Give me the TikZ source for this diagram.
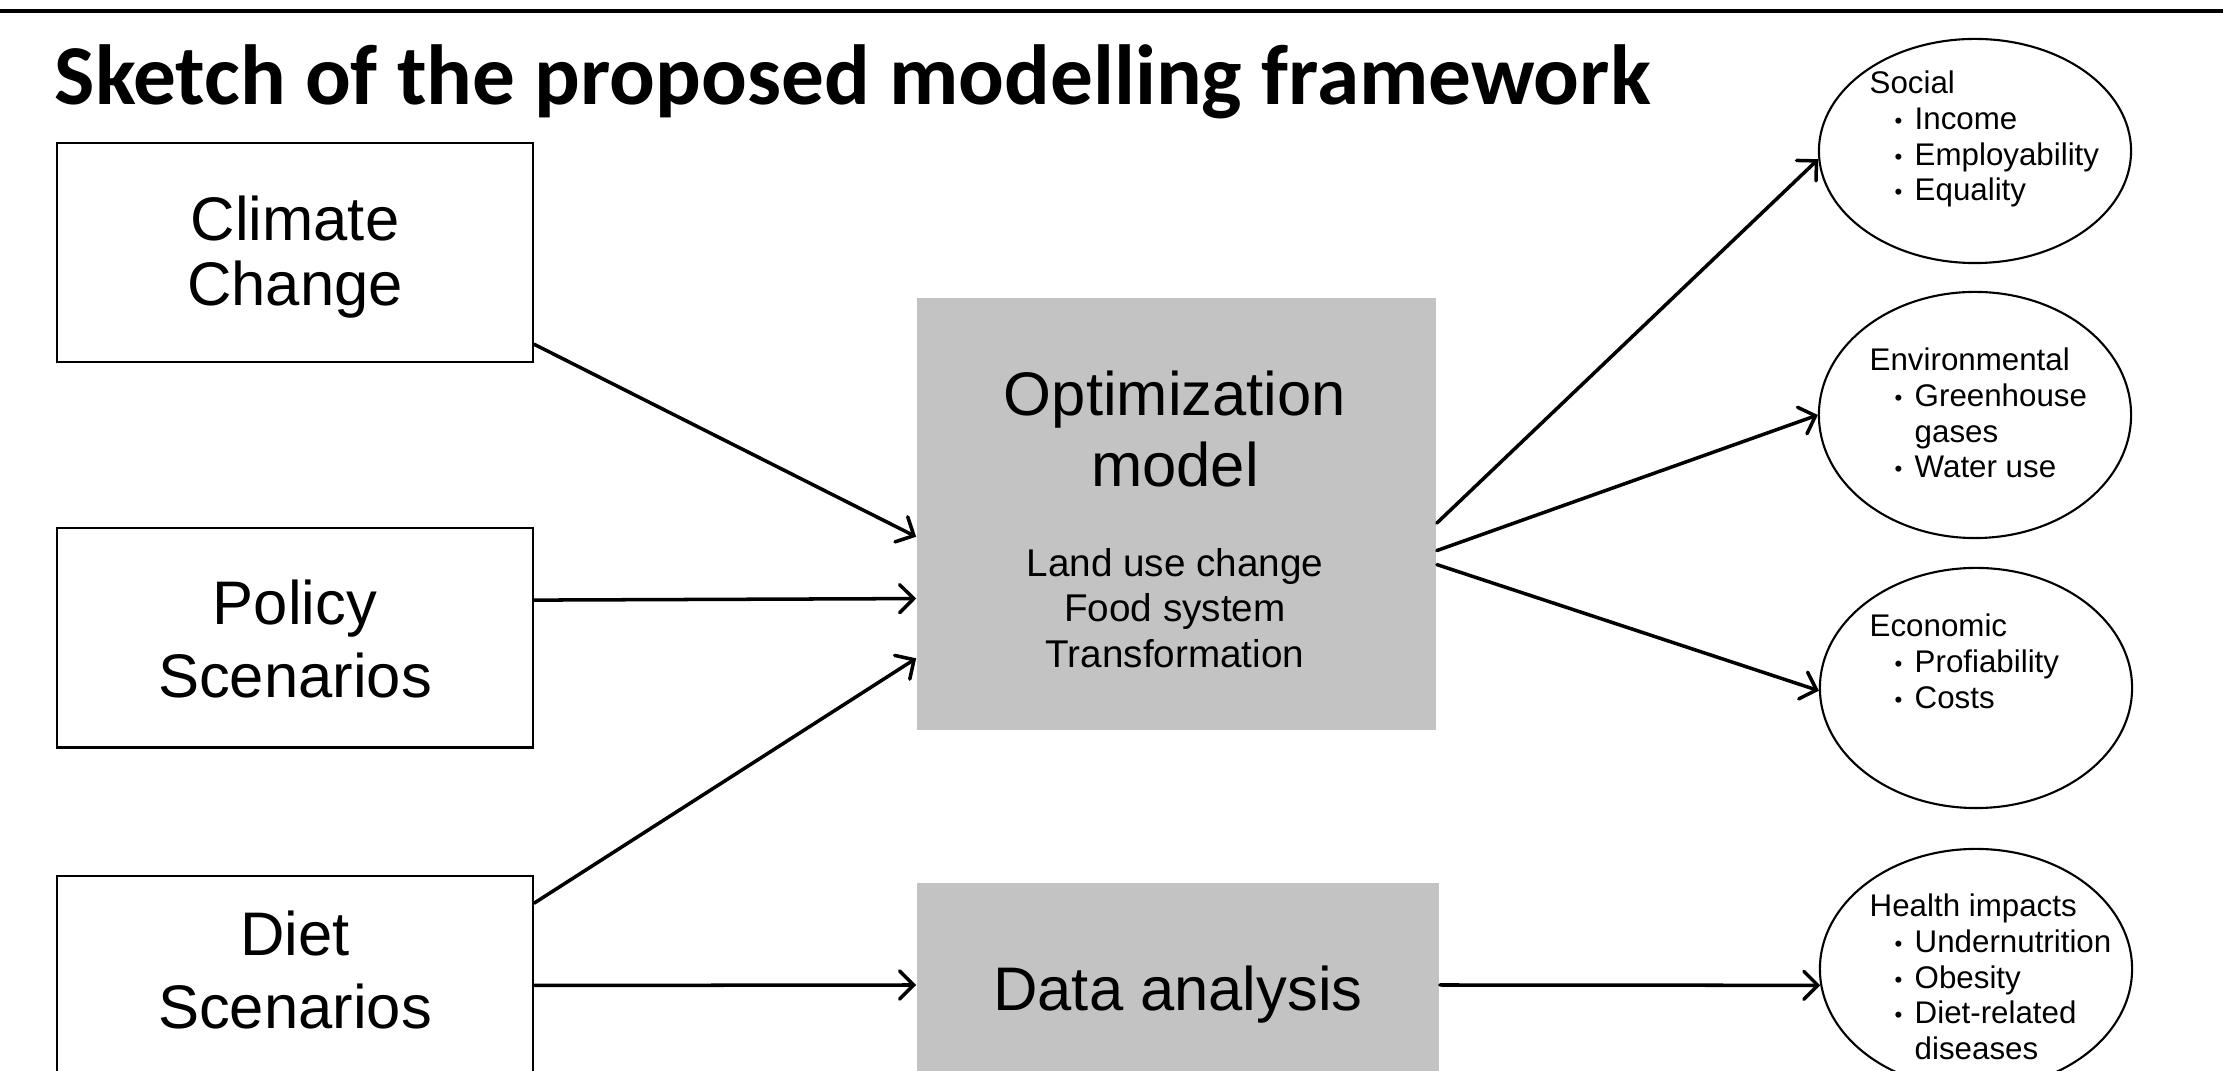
\documentclass[tikz,border=0pt]{standalone}
\usepackage{fontspec}
\setmainfont{Liberation Sans}
\newfontfamily\titlefont{Carlito}
\usetikzlibrary{arrows.meta,shapes.geometric}
\definecolor{boxgray}{RGB}{195,195,195}
\newcommand{\bul}{\hspace*{7.1pt}\makebox[5.7pt][l]{\fontsize{6.3}{6.3}\selectfont\raisebox{0.3pt}{•}}}
\newcommand{\bulcont}{\hspace*{12.8pt}}
\begin{document}
\begin{tikzpicture}[x=0.01cm,y=-0.01cm,
  inbox/.style={draw, line width=0.6pt, rectangle, minimum width=4.76cm, minimum height=2.19cm, inner sep=0pt},
  graybox/.style={fill=boxgray, rectangle, inner sep=0pt},
  outell/.style={draw, ellipse, line width=0.6pt, minimum width=3.12cm, inner sep=0pt},
  etext/.style={anchor=north west, inner sep=0pt, align=left, font=\fontsize{8.9}{10.2}\selectfont},
  bigtext/.style={align=center, inner sep=0pt, font=\fontsize{17.5}{20.6}\selectfont},
  arr/.style={-{Straight Barb[length=4pt,width=8pt,line cap=round]}, line width=1pt, line cap=round},
]
\clip (0,0) rectangle (2223,1071);
\fill[white] (0,0) rectangle (2223,1071);
\coordinate (tl) at (0,11);
\coordinate (tr) at (2223,11);
\draw[line width=0.9pt] (tl) -- (tr);

\node[anchor=base west, inner sep=0pt, font=\titlefont\fontsize{24.25}{28}\selectfont\bfseries] (title) at (54,105) {Sketch of the proposed modelling framework};

\node[inbox] (climate) at (295,252.5) {};
\node[bigtext, font=\fontsize{17.5}{18.5}\selectfont] (climatetxt) at (295,257.5) {Climate\\Change};
\node[inbox] (policy) at (295,638) {};
\node[bigtext] (policytxt) at (295,639) {Policy\\Scenarios};
\node[inbox] (diet) at (295,985.5) {};
\node[bigtext] (diettxt) at (295,970) {Diet\\Scenarios};

\node[graybox, minimum width=5.19cm, minimum height=4.32cm] (opt) at (1176.5,514) {};
\node[bigtext, font=\fontsize{17.5}{20}\selectfont] (opttitle) at (1175,429) {Optimization\\model};
\node[align=center, inner sep=0pt, font=\fontsize{11}{12.9}\selectfont] (optsub) at (1175,608) {Land use change\\Food system\\Transformation};
\node[graybox, minimum width=5.22cm, minimum height=2.04cm] (data) at (1178,985) {};
\node[bigtext] (datatxt) at (1178,995) {Data analysis};

\node[outell, minimum height=2.24cm] (social) at (1975,151) {};
\node[outell, minimum height=2.46cm] (env) at (1975,415) {};
\node[outell, minimum height=2.40cm] (econ) at (1976,688) {};
\node[outell, minimum height=2.40cm] (health) at (1976,969) {};

\node[etext] (socialtxt) at (1869,70) {Social\\\bul Income\\\bul Employability\\\bul Equality};
\node[etext] (envtxt) at (1869,347) {Environmental\\\bul Greenhouse\\\bulcont gases\\\bul Water use};
\node[etext] (econtxt) at (1869,613) {Economic\\\bul Profiability\\\bul Costs};
\node[etext] (healthtxt) at (1869,893) {Health impacts\\\bul Undernutrition\\\bul Obesity\\\bul Diet-related\\\bulcont diseases};

\draw[arr] (climate.-21.2) -- (opt.185.7);
\draw[arr] (policy.9.07) -- (opt.198.9);
\draw[arr] (diet.19.3) -- (opt.209.7);
\draw[arr] (diet.east) -- (data.west);
\draw[arr] (opt.-2.87) -- (social.183);
\draw[arr] (opt.-8.55) -- (env.west);
\draw[arr] (opt.-11.5) -- (econ.181);
\draw[arr] (data.east) -- (health.186);
\end{tikzpicture}
\end{document}
